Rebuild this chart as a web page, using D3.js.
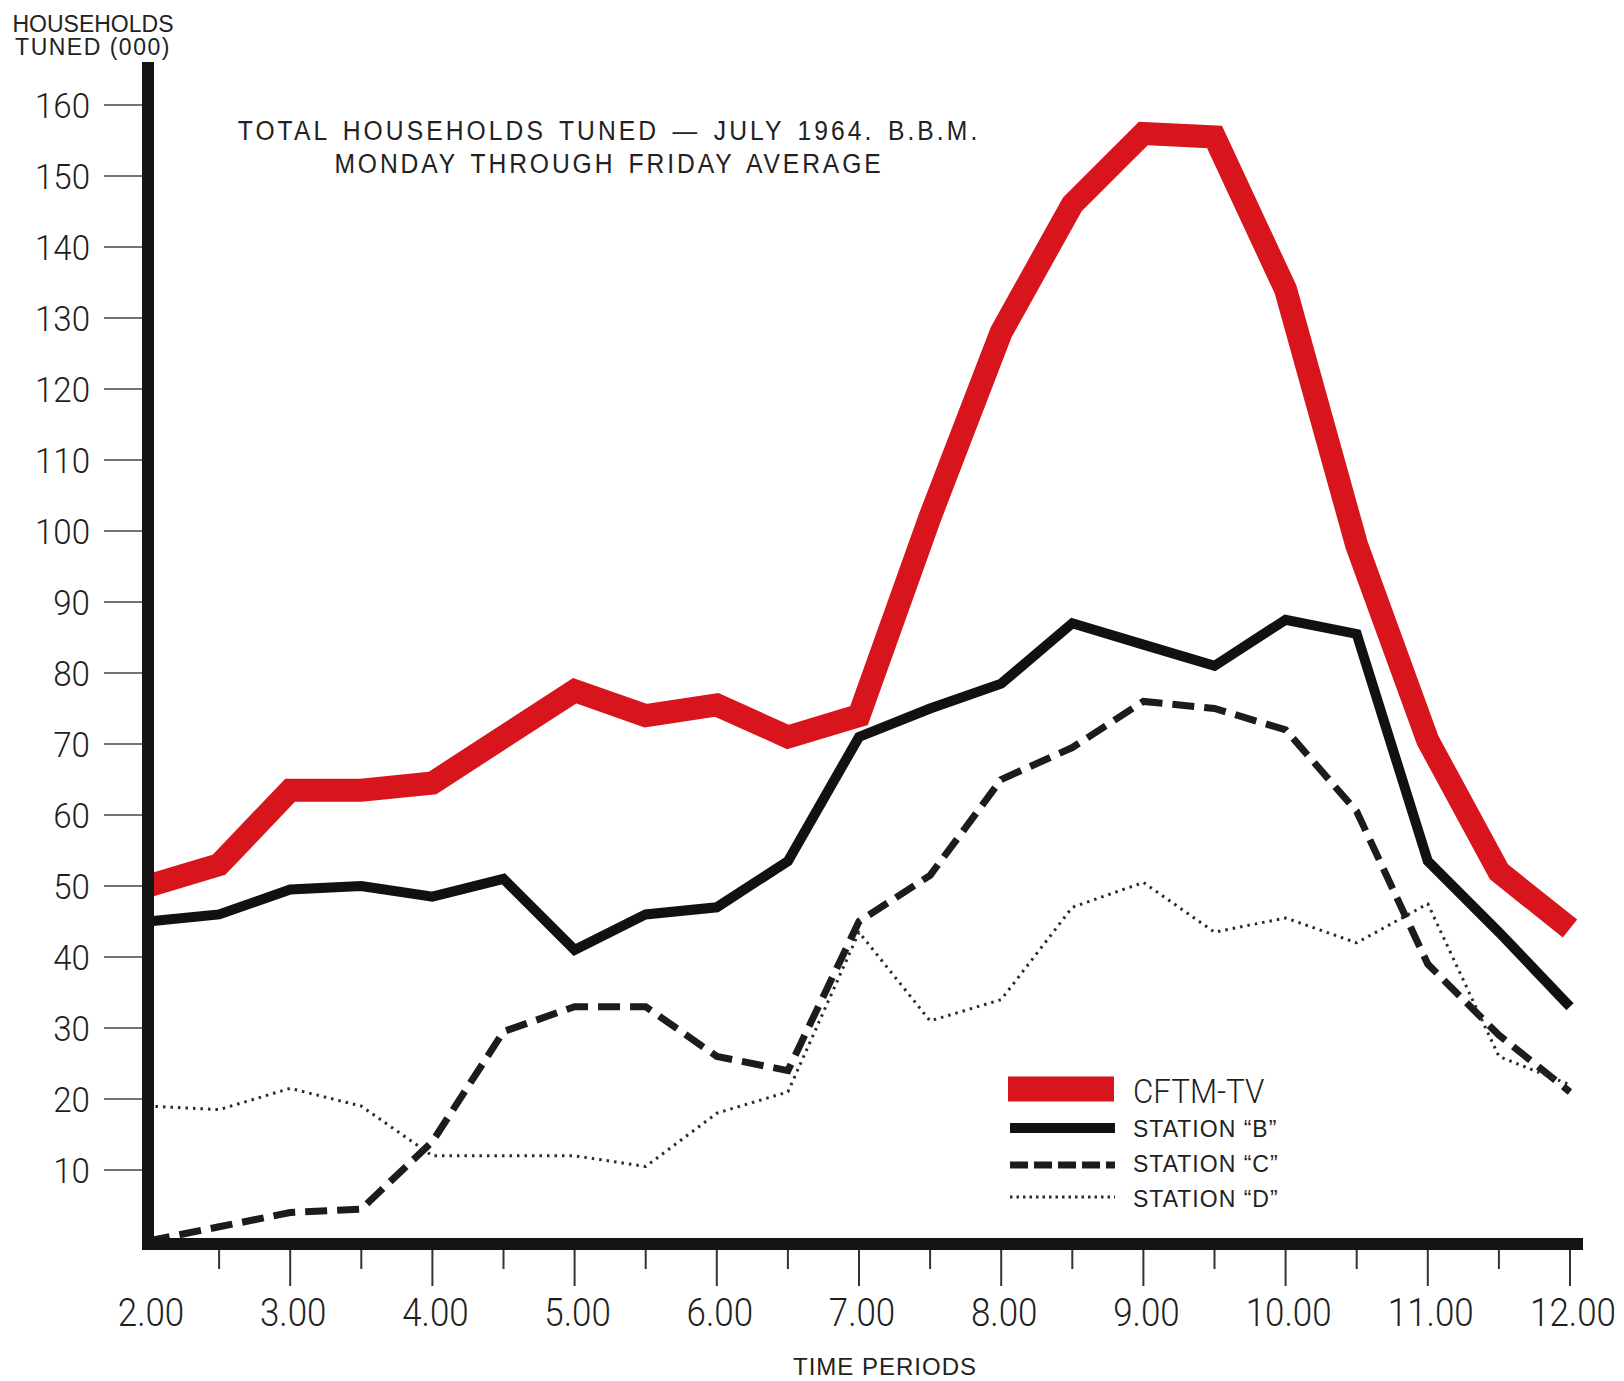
<!DOCTYPE html>
<html>
<head>
<meta charset="utf-8">
<script src="https://cdn.jsdelivr.net/npm/d3@7"></script>
<style>
  html, body { margin: 0; padding: 0; background: #ffffff; }
  svg { display: block; }
  text { font-family: "Liberation Sans", Arial, sans-serif; fill: #222; }
  text.light { font-family: Roboto, "Liberation Sans", Arial, sans-serif; font-weight: 300; fill: #1e1e1e; }
</style>
</head>
<body>
<svg id="chart" width="1624" height="1381"></svg>
<script>
// ---- data ----
const times = [2, 2.5, 3, 3.5, 4, 4.5, 5, 5.5, 6, 6.5, 7, 7.5, 8, 8.5, 9, 9.5, 10, 10.5, 11, 11.5, 12];
const cftm     = [50, 53, 63.5, 63.5, 64.5, 71, 77.5, 74, 75.5, 71, 74, 102, 128, 146, 156, 155.5, 134, 98, 70.5, 52, 44];
const stationB = [45, 46, 49.5, 50, 48.5, 51, 41, 46, 47, 53.5, 71, 75, 78.5, 87, 84, 81, 87.5, 85.5, 53.5, 43.5, 33];
const stationC = [0, 2, 4, 4.5, 14, 29.5, 33, 33, 26, 24, 45, 51.5, 65, 69.5, 76, 75, 72, 60.5, 39, 29, 21];
const stationD = [19, 18.5, 21.5, 19, 12, 12, 12, 10.5, 18, 21, 43.5, 31, 34, 47, 50.5, 43.5, 45.5, 42, 47.5, 26, 22];

const yTicks = [10, 20, 30, 40, 50, 60, 70, 80, 90, 100, 110, 120, 130, 140, 150, 160];
const xHourTicks = [3, 4, 5, 6, 7, 8, 9, 10, 11, 12];
const xHalfTicks = [2.5, 3.5, 4.5, 5.5, 6.5, 7.5, 8.5, 9.5, 10.5, 11.5];
const xLabelValues = [2, 3, 4, 5, 6, 7, 8, 9, 10, 11, 12];
const xLabels = ["2.00", "3.00", "4.00", "5.00", "6.00", "7.00", "8.00", "9.00", "10.00", "11.00", "12.00"];

const titleLines = ["TOTAL HOUSEHOLDS TUNED \u2014 JULY 1964. B.B.M.", "MONDAY THROUGH FRIDAY AVERAGE"];
const yTitleLines = ["HOUSEHOLDS", "TUNED (000)"];
const xTitle = "TIME PERIODS";
const legendNames = ["CFTM-TV", "STATION \u201CB\u201D", "STATION \u201CC\u201D", "STATION \u201CD\u201D"];

// ---- scales ----
const svg = d3.select("#chart");
const x = d3.scaleLinear().domain([2, 12]).range([148, 1570]);
const y = d3.scaleLinear().domain([0, 160]).range([1241, 105]);

const axisX = x(2);         // vertical axis position
const axisY = y(0) + 3;     // horizontal axis position

// ---- series ----
const line = d3.line().x((d, i) => x(times[i])).y(d => y(d));

const series = [
  { values: cftm,     color: "#d8141c", width: 23, dash: null,   cap: "butt", join: "miter" },
  { values: stationB, color: "#111111", width: 10, dash: null,   cap: "butt", join: "miter" },
  { values: stationC, color: "#1c1c1c", width: 7,  dash: "22,10", cap: "butt", join: "miter" },
  { values: stationD, color: "#2a2a2a", width: 3,  dash: "2.5,5", cap: "butt", join: "round" }
];

svg.append("g").selectAll("path")
  .data(series)
  .join("path")
  .attr("d", s => line(s.values))
  .attr("fill", "none")
  .attr("stroke", s => s.color)
  .attr("stroke-width", s => s.width)
  .attr("stroke-dasharray", s => s.dash)
  .attr("stroke-linecap", s => s.cap)
  .attr("stroke-linejoin", s => s.join)
  .attr("stroke-miterlimit", 3);

// ---- axes ----
const ax = svg.append("g");
// y tick marks
ax.selectAll("line.yt").data(yTicks).join("line")
  .attr("x1", axisX - 44).attr("x2", axisX)
  .attr("y1", d => y(d)).attr("y2", d => y(d))
  .attr("stroke", "#444").attr("stroke-width", 1.6);
// y tick labels
ax.selectAll("text.yl").data(yTicks).join("text")
  .attr("class", "light")
  .attr("text-anchor", "end")
  .attr("transform", d => `translate(${axisX - 58},${y(d) + 13}) scale(0.92,1)`)
  .attr("font-size", 36)
  .text(d => d);

// x tick marks
ax.selectAll("line.xh").data(xHourTicks).join("line")
  .attr("x1", d => x(d)).attr("x2", d => x(d))
  .attr("y1", axisY).attr("y2", axisY + 42)
  .attr("stroke", "#333").attr("stroke-width", 2);
ax.selectAll("line.xs").data(xHalfTicks).join("line")
  .attr("x1", d => x(d)).attr("x2", d => x(d))
  .attr("y1", axisY).attr("y2", axisY + 25)
  .attr("stroke", "#333").attr("stroke-width", 2);
// x labels
ax.selectAll("text.xl").data(xLabelValues).join("text")
  .attr("class", "light")
  .attr("text-anchor", "middle")
  .attr("transform", d => `translate(${x(d) + 3},${axisY + 82}) scale(0.92,1)`)
  .attr("font-size", 38)
  .text((d, i) => xLabels[i]);

// axis lines
ax.append("line")
  .attr("x1", axisX).attr("x2", axisX)
  .attr("y1", 62).attr("y2", axisY + 6)
  .attr("stroke", "#141414").attr("stroke-width", 12);
ax.append("line")
  .attr("x1", axisX - 6).attr("x2", 1583)
  .attr("y1", axisY).attr("y2", axisY)
  .attr("stroke", "#141414").attr("stroke-width", 12);

// ---- titles ----
svg.append("g").selectAll("text").data(titleLines).join("text")
  .attr("text-anchor", "middle")
  .attr("transform", (d, i) => `translate(609,${140 + i * 33}) scale(0.88,1)`)
  .attr("font-size", 28)
  .attr("letter-spacing", (d, i) => i === 0 ? 3.5 : 3.3)
  .attr("word-spacing", 4)
  .text(d => d);

svg.append("g").selectAll("text").data(yTitleLines).join("text")
  .attr("x", 93).attr("y", (d, i) => 32 + i * 23)
  .attr("text-anchor", "middle")
  .attr("font-size", 23)
  .attr("letter-spacing", (d, i) => i === 0 ? 0 : 1.5)
  .text(d => d);

svg.append("text")
  .attr("x", 885).attr("y", 1375)
  .attr("text-anchor", "middle")
  .attr("font-size", 24)
  .attr("letter-spacing", 1)
  .text(xTitle);

// ---- legend ----
const lg = svg.append("g");
const lgX1 = 1010, lgX2 = 1114, lgText = 1133;
const lgRows = [1089, 1128, 1165, 1197];
const lgBase = [1103, 1137, 1172, 1207];
lg.append("rect").attr("x", lgX1 - 2).attr("y", lgRows[0] - 12.5)
  .attr("width", lgX2 - lgX1 + 2).attr("height", 25).attr("fill", series[0].color);
[1, 2, 3].forEach(k => {
  lg.append("line")
    .attr("x1", lgX1).attr("x2", lgX2 + 1)
    .attr("y1", lgRows[k]).attr("y2", lgRows[k])
    .attr("stroke", series[k].color)
    .attr("stroke-width", k === 1 ? 10 : (k === 2 ? 7 : 3))
    .attr("stroke-dasharray", k === 2 ? "18,6" : (k === 3 ? "2.5,4" : null));
});
lg.selectAll("text").data(legendNames).join("text")
  .attr("class", (d, i) => i === 0 ? "light" : null)
  .attr("transform", (d, i) => i === 0
      ? `translate(${lgText},${lgBase[i]}) scale(0.95,1)`
      : `translate(${lgText},${lgBase[i]})`)
  .attr("font-size", (d, i) => i === 0 ? 33 : 23)
  .attr("letter-spacing", (d, i) => i === 0 ? 0 : 1)
  .text(d => d);
</script>
</body>
</html>
